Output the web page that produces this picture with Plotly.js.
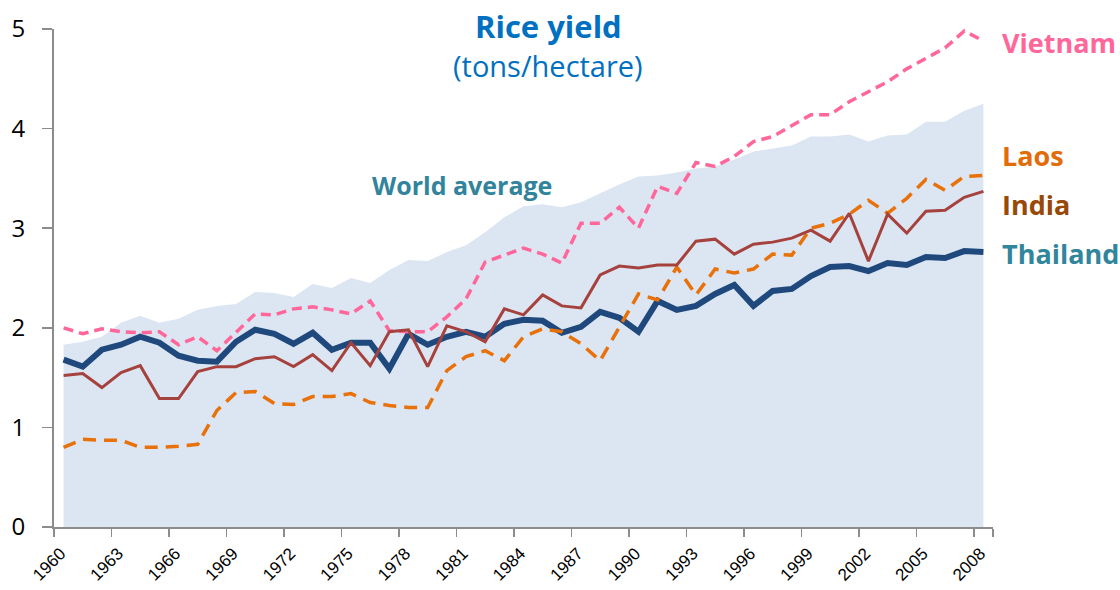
<!DOCTYPE html>
<html>
<head>
<meta charset="utf-8">
<script src="https://cdn.plot.ly/plotly-3.0.1.min.js"></script>
<style>html,body{margin:0;padding:0;background:#fff;}#chart{width:1120px;height:590px;}</style>
</head>
<body>
<div id="chart"></div>
<script>
const years = [];
for (let y = 1960; y <= 2008; y++) years.push(y);

const worldAverage = [1.83,1.86,1.91,2.05,2.12,2.05,2.09,2.18,2.22,2.24,2.36,2.35,2.31,
  2.44,2.40,2.50,2.45,2.58,2.68,2.67,2.76,2.83,2.96,3.11,3.22,
  3.24,3.21,3.26,3.35,3.44,3.52,3.53,3.56,3.60,3.62,3.69,3.77,
  3.80,3.83,3.92,3.92,3.94,3.87,3.93,3.94,4.07,4.07,4.18,4.25];

const thailand = [1.68,1.61,1.78,1.83,1.91,1.85,1.72,1.67,1.66,1.86,1.98,1.94,1.84,
  1.95,1.78,1.85,1.85,1.59,1.94,1.83,1.91,1.96,1.91,2.04,2.08,
  2.07,1.95,2.01,2.16,2.10,1.96,2.27,2.18,2.22,2.34,2.43,2.22,
  2.37,2.39,2.52,2.61,2.62,2.57,2.65,2.63,2.71,2.70,2.77,2.76];

const india = [1.52,1.54,1.40,1.55,1.62,1.29,1.29,1.56,1.61,1.61,1.69,1.71,1.61,
  1.73,1.57,1.85,1.62,1.96,1.98,1.61,2.02,1.96,1.86,2.19,2.13,
  2.33,2.22,2.20,2.53,2.62,2.60,2.63,2.63,2.87,2.89,2.74,2.84,
  2.86,2.90,2.98,2.87,3.15,2.67,3.14,2.95,3.17,3.18,3.31,3.37];

const vietnam = [2.00,1.94,1.99,1.96,1.95,1.96,1.83,1.91,1.77,1.96,2.14,2.13,2.19,
  2.21,2.18,2.14,2.27,1.97,1.96,1.96,2.11,2.29,2.66,2.73,2.80,
  2.74,2.65,3.05,3.05,3.21,3.00,3.42,3.35,3.66,3.62,3.72,3.87,
  3.92,4.03,4.14,4.14,4.27,4.37,4.47,4.60,4.71,4.81,4.98,4.88];

const laos = [0.80,0.88,0.87,0.87,0.80,0.80,0.81,0.83,1.17,1.35,1.36,1.24,1.23,
  1.31,1.31,1.34,1.25,1.22,1.20,1.20,1.57,1.71,1.77,1.67,1.91,
  1.99,1.96,1.84,1.67,2.01,2.34,2.28,2.61,2.33,2.59,2.55,2.59,
  2.74,2.73,3.00,3.05,3.14,3.28,3.15,3.30,3.49,3.38,3.52,3.53];

const yTicks = [0,1,2,3,4,5];
const xTickYears = years.filter((y, i) => i % 3 === 0);

const traces = [
  {x: years, y: worldAverage, type: 'scatter', mode: 'lines', name: 'World average',
   fill: 'tozeroy', fillcolor: '#dce6f2', line: {width: 0, color: '#dce6f2'}, hoverinfo: 'skip'},
  {x: years, y: thailand, type: 'scatter', mode: 'lines', name: 'Thailand',
   line: {color: '#1f497d', width: 6}},
  {x: years, y: laos, type: 'scatter', mode: 'lines', name: 'Laos',
   line: {color: '#e8710a', width: 3.5, dash: '13px,8px'}},
  {x: years, y: vietnam, type: 'scatter', mode: 'lines', name: 'Vietnam',
   line: {color: '#ff6699', width: 3.5, dash: '10px,6px'}},
  {x: years, y: india, type: 'scatter', mode: 'lines', name: 'India',
   line: {color: '#a5423e', width: 3}}
];

const layout = {
  width: 1120, height: 590,
  margin: {l: 54, r: 127, t: 29, b: 63},
  paper_bgcolor: '#ffffff', plot_bgcolor: '#ffffff',
  showlegend: false,
  font: {family: 'Open Sans, sans-serif', color: '#000'},
  xaxis: {
    type: 'category',
    tickmode: 'array', tickvals: xTickYears, ticktext: xTickYears.map(String),
    tickson: 'boundaries',
    ticks: 'outside', ticklen: 8, tickwidth: 1.5, tickcolor: '#8c8c8c',
    tickangle: -45,
    ticklabelstandoff: 8,
    ticklabelshift: -3,
    tickfont: {family: 'Liberation Sans, Arial, sans-serif', size: 17, color: '#000'},
    showline: true, linecolor: '#8c8c8c', linewidth: 2,
    showgrid: false, zeroline: false,
    range: [-0.5, 48.5]
  },
  yaxis: {
    range: [0, 5], tickmode: 'array', tickvals: yTicks,
    ticks: 'outside', ticklen: 10, tickwidth: 1.5, tickcolor: '#8c8c8c',
    ticklabelstandoff: 12,
    tickfont: {family: 'Open Sans, sans-serif', size: 24, color: '#000'},
    showline: true, linecolor: '#8c8c8c', linewidth: 2,
    showgrid: false, zeroline: false
  },
  annotations: [
    {text: '<b>Rice yield</b>', xref: 'paper', yref: 'paper', x: (548-54)/939, y: (527-26)/498,
     xanchor: 'center', yanchor: 'middle', showarrow: false,
     font: {family: 'Open Sans, sans-serif', size: 31, color: '#0070c0'}},
    {text: '(tons/hectare)', xref: 'paper', yref: 'paper', x: (548-54)/939, y: (527-65)/498,
     xanchor: 'center', yanchor: 'middle', showarrow: false,
     font: {family: 'Open Sans, sans-serif', size: 29, color: '#0070c0'}},
    {text: '<b>World average</b>', xref: 'paper', yref: 'paper', x: 0.4345, y: 0.687,
     xanchor: 'center', yanchor: 'middle', showarrow: false,
     font: {family: 'Open Sans, sans-serif', size: 25, color: '#31849b'}},
    {text: '<b>Vietnam</b>', xref: 'paper', yref: 'paper', x: 1.0075, y: 0.972,
     xanchor: 'left', yanchor: 'middle', showarrow: false,
     font: {family: 'Open Sans, sans-serif', size: 27, color: '#ff6699'}},
    {text: '<b>Laos</b>', xref: 'paper', yref: 'paper', x: 1.0075, y: 0.745,
     xanchor: 'left', yanchor: 'middle', showarrow: false,
     font: {family: 'Open Sans, sans-serif', size: 27, color: '#e36c0a'}},
    {text: '<b>India</b>', xref: 'paper', yref: 'paper', x: 1.0075, y: 0.647,
     xanchor: 'left', yanchor: 'middle', showarrow: false,
     font: {family: 'Open Sans, sans-serif', size: 27, color: '#984807'}},
    {text: '<b>Thailand</b>', xref: 'paper', yref: 'paper', x: 1.0075, y: 0.550,
     xanchor: 'left', yanchor: 'middle', showarrow: false,
     font: {family: 'Open Sans, sans-serif', size: 27, color: '#31859c'}}
  ]
};

Plotly.newPlot('chart', traces, layout, {displayModeBar: false, staticPlot: true});
</script>
</body>
</html>
